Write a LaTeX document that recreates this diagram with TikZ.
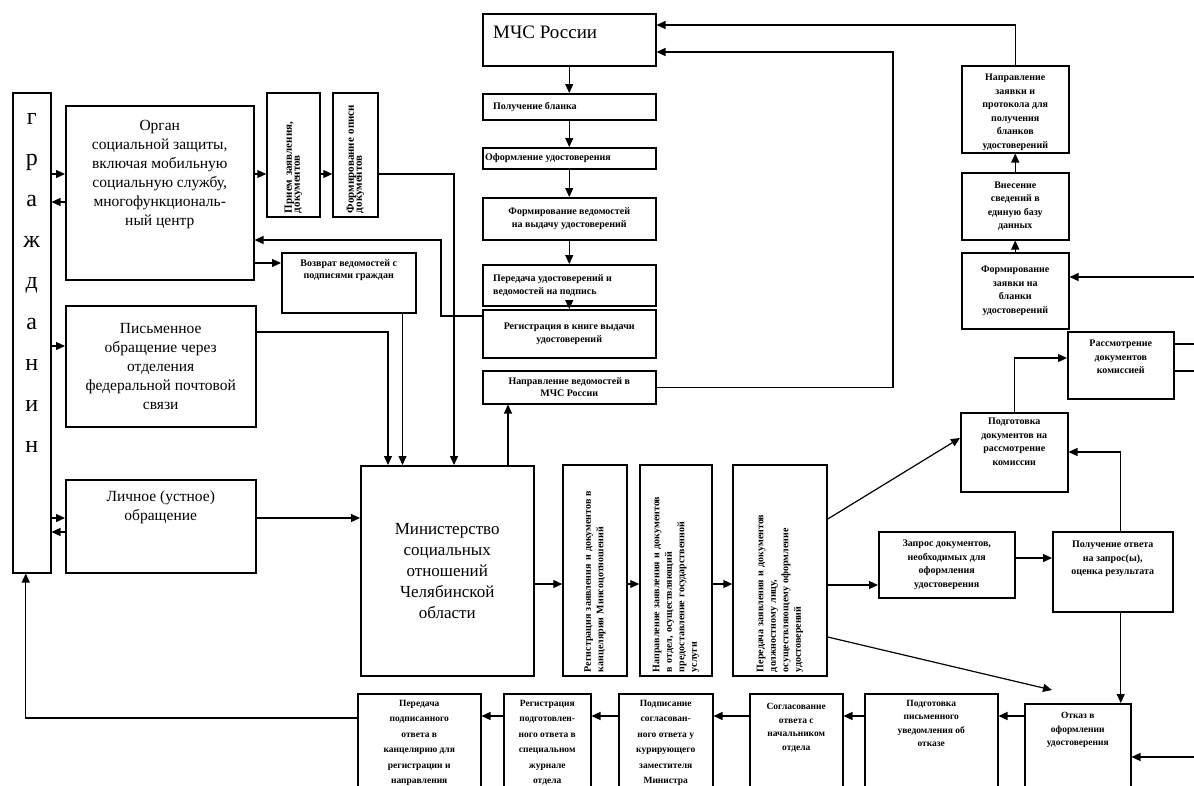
\documentclass[tikz,border=0pt]{standalone}
\usepackage{fontspec}
\setmainfont{Liberation Serif}
\usetikzlibrary{arrows.meta}

\newcommand\fgr{\fontsize{24}{41}\selectfont}
\newcommand\fbig{\fontsize{15.5}{19}\selectfont}
\newcommand\fmin{\fontsize{17}{21}\selectfont}
\newcommand\fmchs{\fontsize{19}{22}\selectfont}
\newcommand\fsm{\bfseries\fontsize{10}{12.5}\selectfont}
\newcommand\fvt{\bfseries\fontsize{11}{8}\selectfont}
\newcommand\frt{\bfseries\fontsize{10}{13.5}\selectfont}
\newcommand\fbot{\bfseries\fontsize{9.5}{15.5}\selectfont}
\newcommand\fbotr{\bfseries\fontsize{9.5}{13.5}\selectfont}

\tikzset{
  box/.style={draw, line width=1.5pt, anchor=north west, inner sep=1pt, align=center},
  vertbox/.style={draw, line width=1.5pt, rotate=90, inner xsep=4pt, inner ysep=2pt, align=left, font=\fsm},
  lbl/.style={inner sep=0pt, align=center, anchor=north},
  arr/.style={line width=1.2pt, -{Triangle[length=9pt,width=8pt]}},
  ln/.style={line width=1.2pt},
}

\begin{document}
\begin{tikzpicture}[x=1pt, y=-1pt]
\useasboundingbox (0,0) rectangle (1194,785);
\fill[white] (0,0) rectangle (1194,785);
\clip (0,0) rectangle (1194,785);

% left column
\node[box, minimum width=38pt, minimum height=480pt,
  label={[lbl, font=\fgr, yshift=-21pt]north:{г\\р\\а\\ж\\д\\а\\н\\и\\н}}] (grazh) at (12,92) {};
\node[box, minimum width=188pt, minimum height=174pt,
  label={[lbl, font=\fbig, yshift=-15pt]north:{Орган\\социальной защиты,\\включая мобильную\\социальную службу,\\многофункциональ-\\ный центр}}] (organ) at (65,105) {};
\node[box, font=\fbig, minimum width=190pt, minimum height=121pt] (pism) at (65,305)
  {Письменное\\обращение через\\отделения\\федеральной почтовой\\связи};
\node[box, minimum width=190pt, minimum height=93pt,
  label={[lbl, font=\fbig, yshift=-12pt]north:{Личное (устное)\\обращение}}] (lich) at (65,479) {};

% reception
\node[vertbox, font=\fvt, minimum width=124pt, text width=116pt, minimum height=53pt] (prijom) at (293.5,155) {Прием заявления,\\документов};
\node[vertbox, font=\fvt, minimum width=124pt, text width=116pt, minimum height=45pt] (opis) at (355.5,155) {Формирование описи\\документов};
\node[box, minimum width=134pt, minimum height=60pt,
  label={[lbl, font=\fsm, yshift=-7pt]north:{Возврат ведомостей с\\подписями граждан}}] (vozvr) at (281,252) {};

% MChS column
\node[box, minimum width=173pt, minimum height=52pt,
  label={[lbl, anchor=north west, font=\fmchs, xshift=11pt, yshift=-13pt]north west:{МЧС России}}] (mchs) at (482,13) {};
\node[box, minimum width=173pt, minimum height=26pt,
  label={[lbl, anchor=west, font=\fsm, xshift=11pt]west:{Получение бланка}}] (poluch) at (482,93) {};
\node[box, minimum width=173pt, minimum height=21pt,
  label={[lbl, anchor=west, font=\fsm, xshift=3pt]west:{Оформление удостоверения}}] (oform) at (482,147) {};
\node[box, font=\fsm, minimum width=173pt, minimum height=42pt] (formved) at (482,197)
  {Формирование ведомостей\\на выдачу удостоверений};
\node[box, minimum width=173pt, minimum height=41pt,
  label={[lbl, anchor=west, align=left, font=\fsm, xshift=11pt]west:{Передача удостоверений и\\ведомостей на подпись}}] (pered) at (482,264) {};
\node[box, font=\fsm, minimum width=173pt, minimum height=48pt] (regkn) at (482,309)
  {Регистрация в книге выдачи\\удостоверений};
\node[box, font=\fsm, minimum width=173pt, minimum height=33pt] (naprved) at (482,370)
  {Направление ведомостей в\\МЧС России};

% ministry
\node[box, font=\fmin, minimum width=173pt, minimum height=210pt] (minist) at (360,465)
  {Министерство\\социальных\\отношений\\Челябинской\\области};
\node[vertbox, minimum width=211pt, text width=203pt, minimum height=64pt] (regz) at (595,570.5)
  {Регистрация заявления и документов в\\канцелярии Минсоцотношений};
\node[vertbox, minimum width=211pt, text width=203pt, minimum height=72pt] (napz) at (676,570.5)
  {Направление заявления и документов\\в отдел, осуществляющий\\предоставление государственной\\услуги};
\node[vertbox, minimum width=211pt, text width=203pt, minimum height=94pt] (perz) at (780,570.5)
  {Передача заявления и документов\\должностному лицу,\\осуществляющему оформление\\удостоверений};

% right part
\node[box, minimum width=107pt, minimum height=87pt,
  label={[lbl, font=\frt, yshift=-9pt]north:{Направление\\заявки и\\протокола для\\получения\\бланков\\удостоверений}}] (napzay) at (961,65) {};
\node[box, font=\frt, minimum width=107pt, minimum height=67pt] (vnes) at (961,172)
  {Внесение\\сведений в\\единую базу\\данных};
\node[box, font=\frt, minimum width=107pt, minimum height=76pt] (formzay) at (961,252)
  {Формирование\\заявки на\\бланки\\удостоверений};
\node[box, minimum width=106pt, minimum height=67pt,
  label={[lbl, font=\frt, yshift=-9pt]north:{Рассмотрение\\документов\\комиссией}}] (rassm) at (1067,331) {};
\node[box, minimum width=107pt, minimum height=79pt,
  label={[lbl, font=\frt, yshift=-6pt]north:{Подготовка\\документов на\\рассмотрение\\комиссии}}] (podgdoc) at (960,412) {};
\node[box, font=\frt, minimum width=136pt, minimum height=66pt] (zapros) at (878,531)
  {Запрос документов,\\необходимых для\\оформления\\удостоверения};
\node[box, minimum width=120pt, minimum height=80pt,
  label={[lbl, font=\frt, yshift=-10pt]north:{Получение ответа\\на запрос(ы),\\оценка результата}}] (poluchotv) at (1052,531) {};

% bottom row
\node[box, minimum width=123pt, minimum height=110pt,
  label={[lbl, font=\fbot, yshift=-7pt]north:{Передача\\подписанного\\ответа в\\канцелярию для\\регистрации и\\направления}}] (peredpod) at (357,693) {};
\node[box, minimum width=87pt, minimum height=110pt,
  label={[lbl, font=\fbot, yshift=-7pt]north:{Регистрация\\подготовлен-\\ного ответа в\\специальном\\журнале\\отдела}}] (regpodg) at (503,693) {};
\node[box, minimum width=94pt, minimum height=110pt,
  label={[lbl, font=\fbot, yshift=-7pt]north:{Подписание\\согласован-\\ного ответа у\\курирующего\\заместителя\\Министра}}] (podpis) at (618,693) {};
\node[box, minimum width=93pt, minimum height=110pt,
  label={[lbl, font=\fbotr, yshift=-10pt]north:{Согласование\\ответа с\\начальником\\отдела}}] (soglas) at (749,693) {};
\node[box, minimum width=133pt, minimum height=110pt,
  label={[lbl, font=\fbotr, yshift=-7pt]north:{Подготовка\\письменного\\уведомления об\\отказе}}] (podgpism) at (864,693) {};
\node[box, minimum width=106pt, minimum height=100pt,
  label={[lbl, font=\fbotr, yshift=-9pt]north:{Отказ в\\оформлении\\удостоверения}}] (otkaz) at (1024,703) {};

% levels and bends
\coordinate (l174) at (0,174);
\coordinate (l202) at (0,202);
\coordinate (l263) at (0,263);
\coordinate (l316) at (0,316);
\coordinate (l332) at (0,332);
\coordinate (l346) at (0,346);
\coordinate (l518) at (0,518);
\coordinate (l532) at (0,532);
\coordinate (l584) at (0,584);
\coordinate (l519) at (0,519);
\coordinate (l438) at (0,438);
\coordinate (l585) at (0,585);
\coordinate (l637) at (0,637);
\coordinate (l558) at (0,558);
\coordinate (l716) at (0,716);
\coordinate (bA) at (454,174);
\coordinate (bB) at (441,240);
\coordinate (bC) at (388,332);
\coordinate (bD) at (893,52);
\coordinate (bE) at (1014,358);
\coordinate (bF) at (1120,452);
\coordinate (bG) at (25,718);
\coordinate (tOt) at (1052,690);
\coordinate (eR1) at (1194,277);
\coordinate (eR2) at (1194,344);
\coordinate (eR3) at (1194,371);
\coordinate (eR4) at (1194,757);

% citizens and first contact
\draw[arr] (grazh.east |- l174) -- (organ.west |- l174);
\draw[arr] (organ.west |- l202) -- (grazh.east |- l202);
\draw[arr] (grazh.east |- l346) -- (pism.west |- l346);
\draw[arr] (grazh.east |- l518) -- (lich.west |- l518);
\draw[arr] (lich.west |- l532) -- (grazh.east |- l532);
\draw[arr] (organ.east |- l174) -- (prijom.north |- l174);
\draw[arr] (prijom.south |- l174) -- (opis.north |- l174);
\draw[arr] (opis.south |- l174) -| (minist.north -| bA);
\draw[arr] (organ.east |- l263) -- (vozvr.west |- l263);
\coordinate (vz) at ([xshift=-14pt]vozvr.south east);
\draw[arr] (vz) -- (vz |- minist.north);
\draw[arr] (pism.east |- l332) -| (minist.north -| bC);
\draw[arr] (regkn.west |- l316) -| (bB) -- (organ.east |- bB);
\draw[arr] (lich.east |- l518) -- (minist.west |- l518);

% MChS chain
\draw[arr] (mchs) -- (poluch);
\draw[arr] (poluch) -- (oform);
\draw[arr] (oform) -- (formved);
\draw[arr] (formved) -- (pered);
\draw[arr] (pered) -- (regkn);
\coordinate (mz) at ([xshift=148pt]minist.north west);
\draw[arr] (mz) -- (mz |- naprved.south);
\draw[arr] (naprved.east) -| (bD) -- (mchs.east |- bD);
\draw[arr] (napzay.north) |- ([yshift=-12pt]mchs.north east);
\draw[arr] (vnes) -- (napzay);
\draw[arr] (formzay) -- (vnes);
\draw[arr] (eR1) -- (formzay.east |- eR1);
\draw[ln] (rassm.east |- eR2) -- (eR2);
\draw[ln] (rassm.east |- eR3) -- (eR3);

% ministry processing
\draw[arr] (minist.east |- l584) -- (regz.north |- l584);
\draw[arr] (regz.south |- l584) -- (napz.north |- l584);
\draw[arr] (napz.south |- l584) -- (perz.north |- l584);
\draw[arr] (perz.south |- l519) -- (podgdoc.west |- l438);
\draw[arr] (perz.south |- l585) -- (zapros.west |- l585);
\draw[arr] (perz.south |- l637) -- (tOt);
\draw[arr] (zapros.east |- l558) -- (poluchotv.west |- l558);
\draw[arr] (podgdoc.north) |- (rassm.west |- bE);
\coordinate (pq) at ([xshift=8pt]poluchotv.north);
\draw[arr] (pq) |- (podgdoc.east |- bF);
\coordinate (ps) at ([xshift=8pt]poluchotv.south);
\draw[arr] (ps) -- (ps |- otkaz.north);
\draw[arr] (eR4) -- (otkaz.east |- eR4);

% refusal chain
\foreach \a/\b in {otkaz/podgpism, podgpism/soglas, soglas/podpis, podpis/regpodg, regpodg/peredpod}
  \draw[arr] (\a.west |- l716) -- (\b.east |- l716);
\draw[arr] (peredpod.west |- bG) -| ([xshift=-6pt]grazh.south);
\end{tikzpicture}
\end{document}
